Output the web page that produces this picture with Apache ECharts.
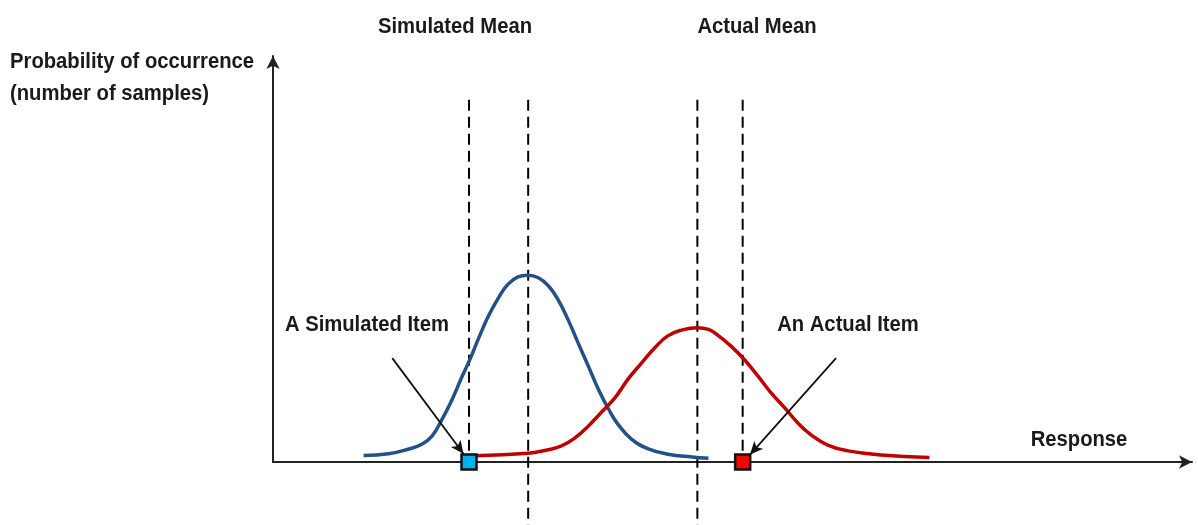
<!DOCTYPE html>
<html>
<head>
<meta charset="utf-8">
<style>
  html, body { margin: 0; padding: 0; background: #fff; }
  #main { width: 1198px; height: 525px; }
</style>
<script src="https://cdn.jsdelivr.net/npm/echarts@6/dist/echarts.min.js"></script>
</head>
<body>
<div id="main"></div>
<script>
var myChart = echarts.init(document.getElementById('main'));

// response (x) / probability (y) points
var simulatedCurve = [
  [9.8, 1.6], [12.5, 2.0], [14.6, 3.1], [16.1, 4.3], [17.2, 6.3], [18.2, 10.0],
  [19.3, 14.8], [20.4, 20.5], [21.3, 24.9], [22.2, 29.8], [23.3, 35.4], [24.4, 39.9],
  [25.4, 43.1], [26.5, 44.9], [27.5, 45.3], [28.7, 44.7], [29.8, 42.7], [30.8, 39.5],
  [31.9, 34.6], [33.0, 28.9], [34.1, 23.3], [35.2, 17.6], [36.3, 12.8], [37.3, 9.2],
  [38.8, 5.5], [40.6, 3.2], [42.7, 1.9], [45.3, 1.2], [47.1, 0.9]
];
var actualCurve = [
  [21.8, 1.5], [27.6, 2.1], [29.4, 2.8], [31.2, 3.9], [32.7, 5.9], [34.1, 8.7],
  [35.5, 12.0], [37.0, 15.6], [38.4, 20.1], [39.9, 24.1], [41.3, 27.7], [42.7, 30.6],
  [44.2, 32.0], [45.9, 32.6], [47.1, 32.2], [48.1, 30.8], [49.6, 28.0], [51.0, 24.8],
  [52.5, 20.7], [53.9, 16.7], [55.4, 13.0], [56.8, 9.4], [58.2, 6.6], [60.0, 4.1],
  [62.2, 2.7], [65.8, 1.7], [71.0, 1.1]
];

// dashed guide lines: [x, top, bottom]
var guideLines = [
  [21.2, 87.9, 0],
  [27.6, 87.9, -15.3],
  [45.9, 87.9, -15.3],
  [50.8, 87.9, 0]
];

var simulatedItem = [21.2, 0];
var actualItem = [50.8, 0];

// annotation arrows: [from, to]
var arrows = [
  [[18.6, 101.9], [26.9, 76.9]],
  [[53.4, 101.9], [45.9, 88.3]],
  [[12.9, 25.2], [20.6, 2.0]],
  [[60.9, 25.2], [51.6, 1.8]]
];

function label(text, x, y, align) {
  return {
    type: 'text', x: x, y: y, scaleX: 0.92,
    style: {
      text: text, fill: '#1a1a1a',
      fontFamily: "'Liberation Sans', Arial, sans-serif",
      fontWeight: 'bold', fontSize: 22,
      textAlign: align || 'center', textVerticalAlign: 'middle'
    }
  };
}

var series = [];
guideLines.forEach(function (g) {
  series.push({
    type: 'line', clip: false, symbol: 'none', silent: true, z: 1,
    data: [[g[0], g[1]], [g[0], g[2]]],
    lineStyle: { color: '#000', width: 2, type: [11, 6] }
  });
});
series.push({
  type: 'line', smooth: 0.45, symbol: 'none', clip: false, z: 2,
  data: simulatedCurve,
  lineStyle: { color: '#24508a', width: 3.5 }
});
series.push({
  type: 'line', smooth: 0.45, symbol: 'none', clip: false, z: 2,
  data: actualCurve,
  lineStyle: { color: '#c00000', width: 3.5 }
});
series.push({
  type: 'line', clip: false, symbol: 'none', data: [], z: 3,
  markLine: {
    silent: true,
    symbol: ['none', 'arrow'],
    symbolSize: [9, 13],
    label: { show: false },
    lineStyle: { color: '#111', width: 1.8, type: 'solid' },
    data: arrows.map(function (a) {
      return [{ coord: a[0] }, { coord: a[1] }];
    })
  }
});
series.push({
  type: 'scatter', clip: false, symbol: 'rect', symbolSize: 15, z: 10,
  data: [simulatedItem],
  itemStyle: { color: '#00b0f0', borderColor: '#111', borderWidth: 2.5, opacity: 1 }
});
series.push({
  type: 'scatter', clip: false, symbol: 'rect', symbolSize: 15, z: 10,
  data: [actualItem],
  itemStyle: { color: '#ff0000', borderColor: '#111', borderWidth: 2.5, opacity: 1 }
});

var option = {
  animation: false,
  grid: { left: 273, right: 6, top: 56, bottom: 63 },
  xAxis: {
    type: 'value', min: 0, max: 99.4,
    axisLine: {
      show: true, symbol: ['none', 'arrow'], symbolSize: [10, 13],
      lineStyle: { color: '#222', width: 2 }
    },
    axisTick: { show: false }, axisLabel: { show: false }, splitLine: { show: false }
  },
  yAxis: {
    type: 'value', min: 0, max: 98.5,
    axisLine: {
      show: true, symbol: ['none', 'arrow'], symbolSize: [10, 13],
      lineStyle: { color: '#222', width: 2 }
    },
    axisTick: { show: false }, axisLabel: { show: false }, splitLine: { show: false }
  },
  graphic: [
    label('Probability of occurrence', 10, 62, 'left'),
    label('(number of samples)', 10, 94, 'left'),
    label('Simulated Mean', 455, 27),
    label('Actual Mean', 757, 27),
    label('A Simulated Item', 367, 325),
    label('An Actual Item', 848, 325),
    label('Response', 1079, 440)
  ],
  series: series
};

myChart.setOption(option);
</script>
</body>
</html>
